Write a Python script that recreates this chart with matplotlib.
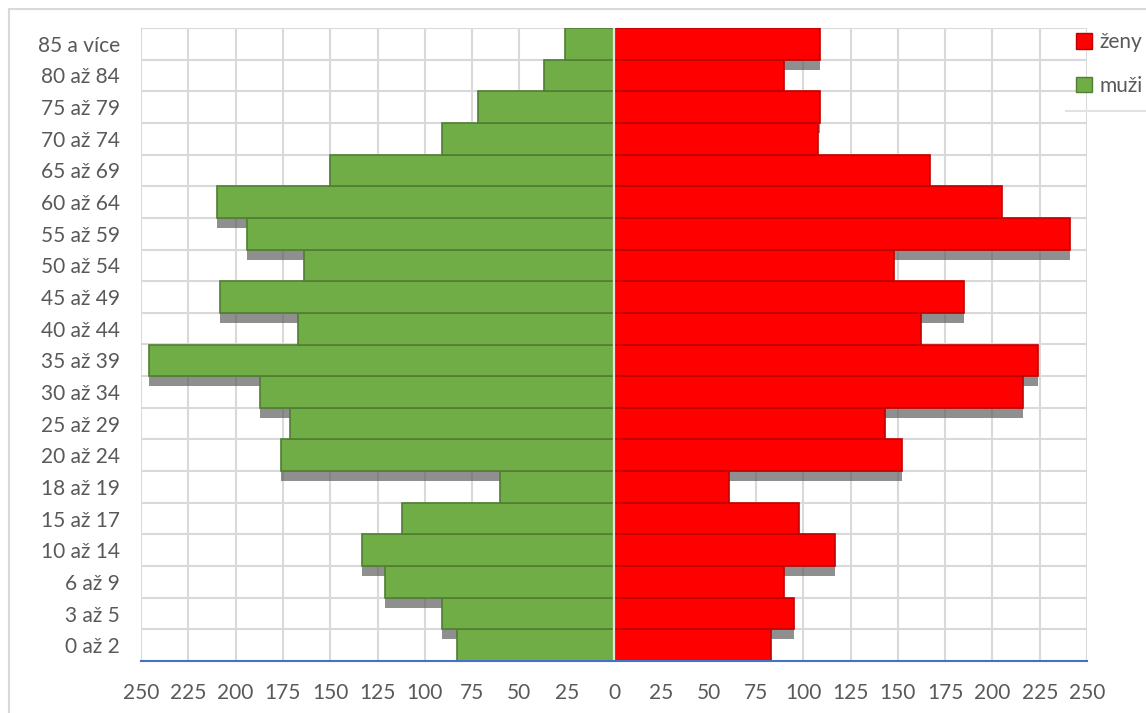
import numpy as np
import matplotlib.pyplot as plt
from matplotlib.patches import Patch, Rectangle
from matplotlib.lines import Line2D

plt.rcParams['font.family'] = ['Lato', 'DejaVu Sans']

age_groups = ['0 až 2', '3 až 5', '6 až 9', '10 až 14', '15 až 17', '18 až 19',
              '20 až 24', '25 až 29', '30 až 34', '35 až 39', '40 až 44',
              '45 až 49', '50 až 54', '55 až 59', '60 až 64', '65 až 69',
              '70 až 74', '75 až 79', '80 až 84', '85 a více']
zeny = [83, 95, 90, 117, 98, 61, 152, 143, 216, 224, 162,
        185, 148, 241, 205, 167, 108, 109, 90, 109]
muzi = [83, 91, 121, 133, 112, 60, 176, 171, 187, 246, 167,
        208, 164, 194, 210, 150, 91, 72, 37, 26]
xticks = np.arange(-250, 251, 25)

green = '#70ad47'
red = '#ff0000'
text_col = '#595959'
grid_col = '#d9d9d9'

fig = plt.figure(figsize=(11.46, 7.13), dpi=100)
ax = fig.add_axes([141 / 1146, 1 - 661 / 713, (1087 - 141) / 1146, (661 - 28) / 713])

y = np.arange(len(age_groups))
muzi_neg = -np.array(muzi)

# shadows first, bars over them
shift = 0.32
ax.barh(y - shift, muzi_neg, height=1.0, color='#5a5a5a', alpha=0.68, zorder=2, linewidth=0)
ax.barh(y - shift, zeny, height=1.0, color='#5a5a5a', alpha=0.68, zorder=2, linewidth=0)

ax.barh(y, muzi_neg, height=1.0, color=green, edgecolor='#507e32', linewidth=1.2, zorder=3)
ax.barh(y, zeny, height=1.0, color=red, edgecolor='#c00000', linewidth=1.2, zorder=3)

ax.axvline(0, color='#e8e2dc', linewidth=1.6, zorder=4)

ax.set_xlim(-250, 250)
ax.set_ylim(-0.5, len(age_groups) - 0.5)

ax.set_xticks(xticks)
ax.set_xticklabels([str(abs(v)) for v in xticks])
ax.set_yticks(y)
ax.set_yticklabels(age_groups)

for v in xticks:
    ax.axvline(v, color=grid_col, linewidth=1.5, zorder=1)
for b in np.arange(-0.5, len(age_groups), 1.0):
    ax.axhline(b, color=grid_col, linewidth=1.5, zorder=1)

ax.tick_params(axis='both', length=0, colors=text_col, labelsize=15)
ax.tick_params(axis='x', pad=16)
ax.tick_params(axis='y', pad=15)
for s in ['top', 'left', 'right']:
    ax.spines[s].set_visible(False)
ax.spines['bottom'].set_color('#4472c4')
ax.spines['bottom'].set_linewidth(1.5)
ax.spines['bottom'].set_zorder(5)

# outer chart frame
fig.patches.append(Rectangle((9 / 1146, -0.1), 1.2, 1 - 9 / 713 + 0.1,
                             transform=fig.transFigure, fill=False,
                             edgecolor=grid_col, linewidth=1.5))

handles = [Patch(facecolor=red, edgecolor='#c00000', label='ženy'),
           Patch(facecolor=green, edgecolor='#507e32', label='muži')]
leg = fig.legend(handles=handles, loc='upper left', bbox_to_anchor=(1072 / 1146, 1 - 28 / 713),
                 frameon=False, fontsize=15, handlelength=0.75, handleheight=0.75,
                 handletextpad=0.35, labelspacing=1.15, borderaxespad=0, borderpad=0.2)
for t in leg.get_texts():
    t.set_color(text_col)

# faint shadow under the legend box
fig.lines.append(Line2D([1066 / 1146, 1.0], [1 - 111 / 713, 1 - 111 / 713],
                        transform=fig.transFigure, color='#e2e2e2', linewidth=1.5))

fig.savefig('out.png', dpi=100)
